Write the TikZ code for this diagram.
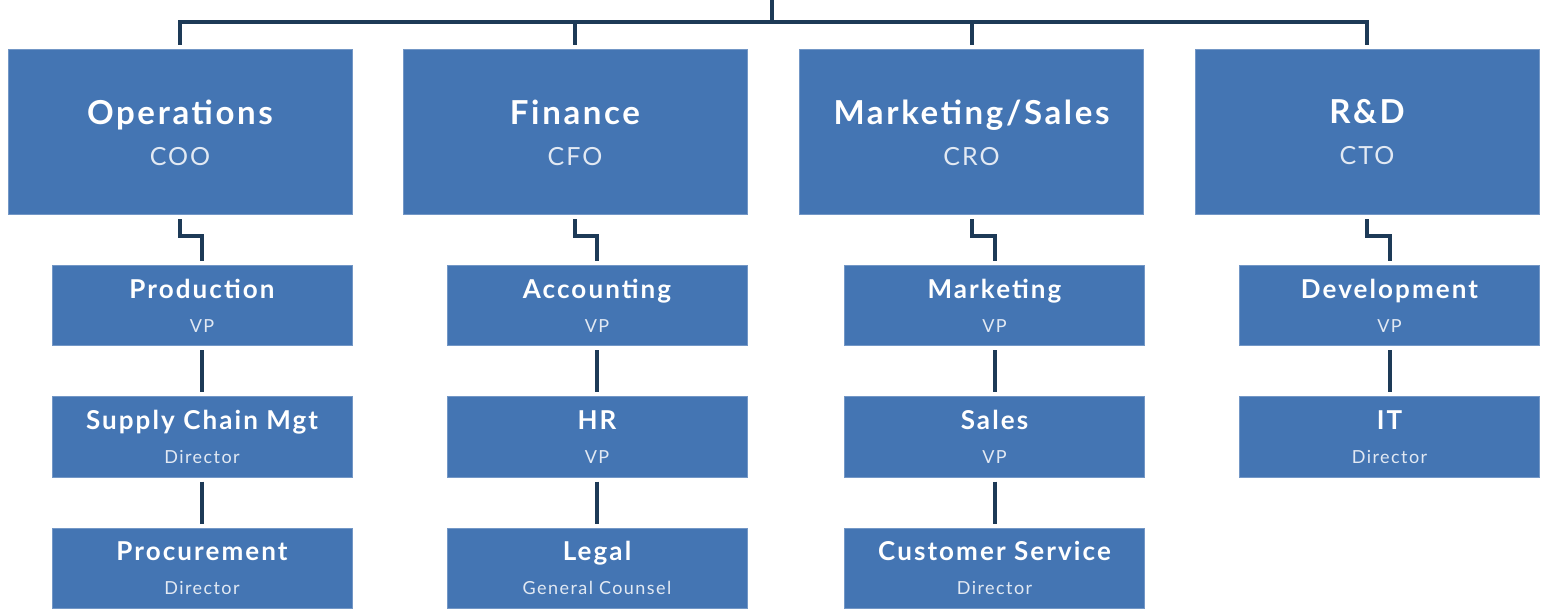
\documentclass[tikz,border=0pt]{standalone}
\usepackage{fontspec}
\setmainfont{Lato}[LetterSpace=8]
\usetikzlibrary{positioning}
\definecolor{boxblue}{HTML}{4475B3}
\definecolor{linknavy}{HTML}{1D3A57}
\definecolor{subtxt}{HTML}{E2E9F3}

\begin{document}
\begin{tikzpicture}[x=0.5pt,y=-0.5pt,
        head/.style={draw=boxblue!75!white, line width=0.5pt, fill=boxblue, text=white, align=center,
        inner sep=0pt, minimum width=172pt, minimum height=82.5pt, font=\fontsize{16.5}{20.5}\selectfont\bfseries},
        unit/.style={head, minimum width=150pt, minimum height=40pt, font=\fontsize{13}{17}\selectfont\bfseries},
        link/.style={draw=linknavy, line width=2pt, shorten <=2pt, shorten >=2pt}]
        \useasboundingbox (0,0) rectangle (1552,614);
        % heads of the four divisions
        \node[head] (ops) at (180,132.5) {Operations\\{\mdseries\fontsize{12.5}{15}\selectfont\color{subtxt}COO}};
        \node[head] (fin) at (575,132.5) {Finance\\{\mdseries\fontsize{12.5}{15}\selectfont\color{subtxt}CFO}};
        \node[head] (mkt) at (971.5,132.5) {Marketing/Sales\\{\mdseries\fontsize{12.5}{15}\selectfont\color{subtxt}CRO}};
        \node[head] (rnd) at (1367,132.5) {R\&D\\{\mdseries\fontsize{12.5}{15}\selectfont\color{subtxt}CTO}};
        % units below them
        \node[unit] (prod) at (202,306) {Production\\{\mdseries\fontsize{9}{11}\selectfont\color{subtxt}VP}};
        \node[unit] (scm) at (202,437) {Supply Chain Mgt\\{\mdseries\fontsize{9}{11}\selectfont\color{subtxt}Director}};
        \node[unit] (proc) at (202,568) {Procurement\\{\mdseries\fontsize{9}{11}\selectfont\color{subtxt}Director}};
        \node[unit] (acc) at (597,306) {Accounting\\{\mdseries\fontsize{9}{11}\selectfont\color{subtxt}VP}};
        \node[unit] (hr) at (597,437) {HR\\{\mdseries\fontsize{9}{11}\selectfont\color{subtxt}VP}};
        \node[unit] (legal) at (597,568) {Legal\\{\mdseries\fontsize{9}{11}\selectfont\color{subtxt}General Counsel}};
        \node[unit] (mark) at (994.5,306) {Marketing\\{\mdseries\fontsize{9}{11}\selectfont\color{subtxt}VP}};
        \node[unit] (sales) at (994.5,437) {Sales\\{\mdseries\fontsize{9}{11}\selectfont\color{subtxt}VP}};
        \node[unit] (cs) at (994.5,568) {Customer Service\\{\mdseries\fontsize{9}{11}\selectfont\color{subtxt}Director}};
        \node[unit] (dev) at (1389.5,306) {Development\\{\mdseries\fontsize{9}{11}\selectfont\color{subtxt}VP}};
        \node[unit] (it) at (1389.5,437) {IT\\{\mdseries\fontsize{9}{11}\selectfont\color{subtxt}Director}};
        % top bar
        \coordinate (root) at (772,0);
        \coordinate (bar) at (772,22);
        \draw[draw=linknavy, line width=2pt] (root) -- (bar);
        \draw[link, shorten <=0pt] (bar) -| (ops.north);
        \draw[link, shorten <=0pt] (bar) -| (rnd.north);
        \draw[link, shorten <=0pt] (fin.north |- bar) -- (fin.north);
        \draw[link, shorten <=0pt] (mkt.north |- bar) -- (mkt.north);
        % elbows down to the units
        \draw[link] (ops.south) -- ++(0,21) -| (prod.north);
        \draw[link] (fin.south) -- ++(0,21) -| (acc.north);
        \draw[link] (mkt.south) -- ++(0,21) -| (mark.north);
        \draw[link] (rnd.south) -- ++(0,21) -| (dev.north);
        \draw[link] (prod) -- (scm);
        \draw[link] (scm) -- (proc);
        \draw[link] (acc) -- (hr);
        \draw[link] (hr) -- (legal);
        \draw[link] (mark) -- (sales);
        \draw[link] (sales) -- (cs);
        \draw[link] (dev) -- (it);
\end{tikzpicture}
\end{document}
